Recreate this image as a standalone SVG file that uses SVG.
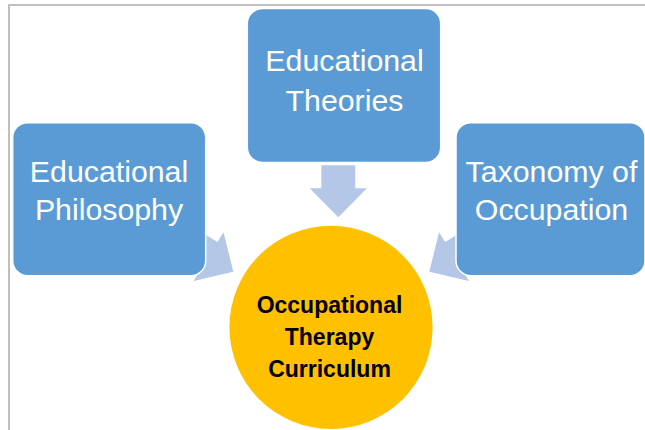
<svg xmlns="http://www.w3.org/2000/svg" width="645" height="430" viewBox="0 0 645 430">
<defs>
<style>
.frame{stroke:#BFBFBF;stroke-width:2;fill:none}
.box{fill:#5B9BD5;stroke:#FFFFFF;stroke-width:1.5}
.arrow{fill:#B4C7E7}
.btxt{font-family:"Liberation Sans",Arial,sans-serif;font-size:30.3px;fill:#FFFFFF;text-anchor:middle}
.ctxt{font-family:"Liberation Sans",Arial,sans-serif;font-size:23px;font-weight:bold;fill:#000000;text-anchor:middle}
</style>
<polygon id="arr" points="-52,-17 -29,-17 -29,-28.6 0,0 -29,28.6 -29,17 -52,17"/>
</defs>
<rect width="645" height="430" fill="#FFFFFF"/>
<path class="frame" d="M9,430 V5 H645"/>
<g id="connectors">
<use href="#arr" class="arrow" transform="translate(338.3,217.3) rotate(90)"/>
<use href="#arr" class="arrow" transform="translate(233.3,271.7) rotate(31.5)"/>
<use href="#arr" class="arrow" transform="translate(429.3,271.7) rotate(148.5)"/>
</g>
<g id="educational-theories">
<rect class="box" x="247.3" y="8.5" width="193.4" height="154" rx="15"/>
<text class="btxt" x="344.5" y="71">Educational</text>
<text class="btxt" x="344.5" y="111">Theories</text>
</g>
<g id="educational-philosophy">
<rect class="box" x="12.7" y="122.7" width="193" height="153" rx="15"/>
<text class="btxt" x="109" y="181.7">Educational</text>
<text class="btxt" x="109" y="220">Philosophy</text>
</g>
<g id="taxonomy-of-occupation">
<rect class="box" x="456" y="122.7" width="189" height="153" rx="15"/>
<text class="btxt" x="551.5" y="181.7">Taxonomy of</text>
<text class="btxt" x="551.5" y="220">Occupation</text>
</g>
<g id="ot-curriculum">
<circle cx="331" cy="327.3" r="101.6" fill="#FFC000"/>
<text class="ctxt" x="329.5" y="312.7">Occupational</text>
<text class="ctxt" x="329.5" y="344.5">Therapy</text>
<text class="ctxt" x="329.5" y="376.7">Curriculum</text>
</g>
</svg>
